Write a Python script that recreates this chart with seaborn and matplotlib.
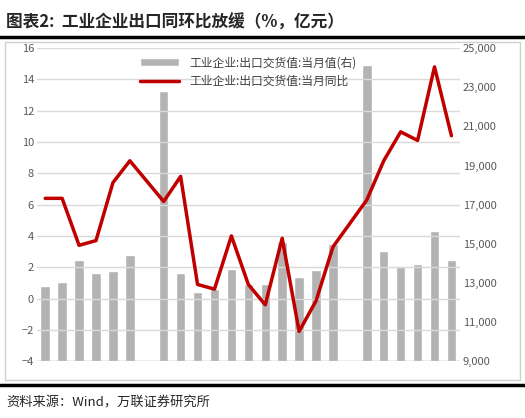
import matplotlib.pyplot as plt
import matplotlib.lines as mlines
import matplotlib.patches as mpatches
import numpy as np
import seaborn as sns

months = ['2024-7', '2024-8', '2024-9', '2024-10', '2024-11', '2024-12',
          '2025-1', '2025-2', '2025-3', '2025-4', '2025-5', '2025-6', '2025-7',
          '2025-8', '2025-9', '2025-10', '2025-11', '2025-12',
          '2026-1', '2026-2', '2026-3', '2026-4', '2026-5', '2026-6', '2026-7']
# 当月值 (亿元, right axis); January not published
export_val = [12830, 13040, 14150, 13480, 13600, 14440,
              np.nan, 22810, 13530, 12530, 12710, 13720, 12920,
              12940, 15070, 13300, 13670, 14990,
              np.nan, 24110, 14650, 13790, 13950, 15660, 14180]
# 当月同比 (%, left axis)
export_yoy = [6.4, 6.4, 3.4, 3.7, 7.4, 8.8,
              np.nan, 6.2, 7.8, 0.9, 0.6, 4.0, 0.9,
              -0.4, 3.85, -2.1, -0.15, 3.3,
              np.nan, 6.3, 8.8, 10.65, 10.1, 14.8, 10.4]

sns.set_style('white')
plt.rcParams['font.family'] = ['Noto Sans CJK SC', 'DejaVu Sans']

fig = plt.figure(figsize=(5.25, 4.18), dpi=100)
ax = fig.add_axes([0.070, 0.136, 0.806, 0.749])
ax2 = ax.twinx()

x = np.arange(len(months))
sns.barplot(x=x, y=export_val, ax=ax2, color='#b3b3b3', saturation=1, width=0.56,
            label='工业企业:出口交货值:当月值(右)')
mask = ~np.isnan(np.array(export_yoy))
sns.lineplot(x=x[mask], y=np.array(export_yoy)[mask], ax=ax, color='#c00000', lw=2.5,
             label='工业企业:出口交货值:当月同比')

ax.set_zorder(ax2.get_zorder() + 1)
ax.patch.set_visible(False)
ax.set_xlim(-0.5, len(months) - 0.5)
ax2.set_xlim(-0.5, len(months) - 0.5)
ax.set_ylim(-4, 16)
ax.set_yticks(range(-4, 17, 2))
ax2.set_ylim(9000, 25000)
ax2.set_yticks(range(9000, 25001, 2000))
ax2.set_yticklabels([f'{v:,}' for v in range(9000, 25001, 2000)])
ax.set_xticks(x[::3])
ax.set_xticklabels(months[::3])
ax2.set_xticks([])
for a in (ax, ax2):
    for s in a.spines.values():
        s.set_visible(False)
    a.tick_params(labelsize=8, colors='#595959', length=0, pad=2)
ax.grid(axis='y', color='#d9d9d9', lw=1)
ax.axhline(-4, color='#bfbfbf', lw=1)

h1, l1 = ax2.get_legend_handles_labels()
h2, l2 = ax.get_legend_handles_labels()
if ax2.get_legend():
    ax2.get_legend().remove()
ax.legend(h1 + h2, l1 + l2, loc='upper center', bbox_to_anchor=(0.5, 1.0), frameon=False,
          fontsize=8.5, labelcolor='#404040', handlelength=3.3, borderaxespad=0.3)

fig.text(0.012, 0.945, '图表2:  工业企业出口同环比放缓（%，亿元）', fontsize=12, fontweight='bold', va='center')
fig.add_artist(mlines.Line2D([0, 1], [0.911, 0.911], color='black', lw=2.5))
fig.add_artist(mlines.Line2D([0, 1], [0.079, 0.079], color='black', lw=2.5))
fig.add_artist(mpatches.Rectangle((0.01, 0.09), 0.98, 0.81, fill=False, ec='#d0d0d0', lw=1))
fig.text(0.012, 0.035, '资料来源：Wind，万联证券研究所', fontsize=9.5, style='italic', va='center')

fig.savefig('out.png', dpi=100)
